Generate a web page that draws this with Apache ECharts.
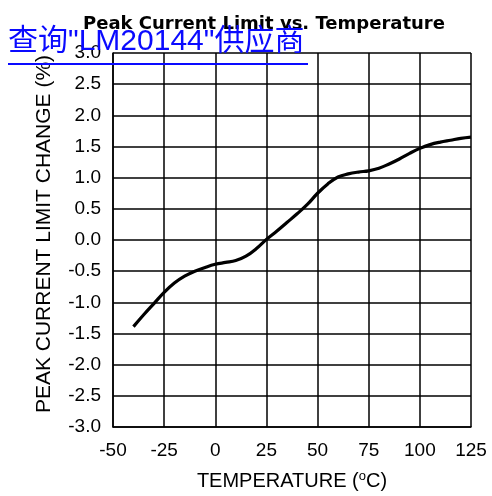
<!DOCTYPE html>
<html>
<head>
<meta charset="utf-8">
<script src="https://cdn.jsdelivr.net/npm/echarts@6/dist/echarts.min.js"></script>
<style>
html,body{margin:0;padding:0;background:#fff;}
#c{width:492px;height:496px;}
</style>
</head>
<body>
<div id="c"></div>
<script>
const temperatures = [-40,-35,-30,-25,-20,-15,-10,-5,0,5,10,15,20,25,30,35,40,45,50,55,60,65,70,75,80,85,90,95,100,105,110,115,120,125];
const limitChange = [-1.39,-1.20,-1.02,-0.84,-0.69,-0.58,-0.50,-0.44,-0.39,-0.36,-0.33,-0.26,-0.14,0.01,0.14,0.28,0.42,0.57,0.75,0.90,1.01,1.06,1.09,1.11,1.15,1.22,1.30,1.39,1.47,1.53,1.57,1.60,1.63,1.65];
const xTicks = [-50,-25,0,25,50,75,100,125];
const yTicks = [-3.0,-2.5,-2.0,-1.5,-1.0,-0.5,0.0,0.5,1.0,1.5,2.0,2.5,3.0];
const titleText = 'Peak Current Limit vs. Temperature';
const linkText = '查询"LM20144"供应商';
const yName = 'PEAK CURRENT LIMIT CHANGE (%)';

const chart = echarts.init(document.getElementById('c'));
const lblFont = 'Liberation Sans, Arial, sans-serif';
chart.setOption({
  animation: false,
  backgroundColor: '#fff',
  title: {
    text: titleText,
    left: 78, top: 10,
    textStyle: {fontFamily: 'DejaVu Sans', fontWeight: 'bold', fontSize: 18, color: '#000'}
  },
  grid: {left: 113, right: 21, top: 53, bottom: 64},
  xAxis: {
    type: 'value',
    min: xTicks[0], max: xTicks[xTicks.length-1], interval: 25,
    axisLine: {show: true, onZero: false, lineStyle: {color: '#000', width: 1.5}},
    axisTick: {show: false},
    splitLine: {show: true, lineStyle: {color: '#000', width: 1.5}},
    axisLabel: {color: '#000', fontSize: 19, fontFamily: lblFont, margin: 14},
    name: '{n|TEMPERATURE (}{s|o}{n|C)}',
    nameLocation: 'middle', nameGap: 43,
    nameTextStyle: {
      rich: {
        n: {fontSize: 20, fontFamily: lblFont, color: '#000', lineHeight: 22},
        s: {fontSize: 13, fontFamily: lblFont, color: '#000', verticalAlign: 'top', lineHeight: 22, padding: [0,0,6,0]}
      }
    }
  },
  yAxis: {
    type: 'value',
    min: yTicks[0], max: yTicks[yTicks.length-1], interval: 0.5,
    axisLine: {show: true, onZero: false, lineStyle: {color: '#000', width: 1.5}},
    axisTick: {show: false},
    splitLine: {show: true, lineStyle: {color: '#000', width: 1.5}},
    axisLabel: {color: '#000', fontSize: 19, fontFamily: lblFont, margin: 12,
      formatter: v => v.toFixed(1)},
    name: yName,
    nameLocation: 'middle', nameGap: 58, nameRotate: 90,
    nameTextStyle: {fontSize: 21, fontFamily: lblFont, color: '#000', padding: [0,0,0,12]}
  },
  series: [{
    type: 'line',
    data: temperatures.map((t, i) => [t, limitChange[i]]),
    smooth: 0.4,
    showSymbol: false,
    lineStyle: {color: '#000', width: 3.2},
    z: 5
  }],
  graphic: [
    {type: 'text', left: 8, top: 27, z: 100,
     style: {text: linkText, fill: '#0a0aff', font: '30px "Liberation Sans", "Noto Sans CJK SC", sans-serif'}},
    {type: 'rect', left: 8, top: 63, z: 100, shape: {width: 300, height: 2}, style: {fill: '#0a0aff'}}
  ]
});
</script>
</body>
</html>
